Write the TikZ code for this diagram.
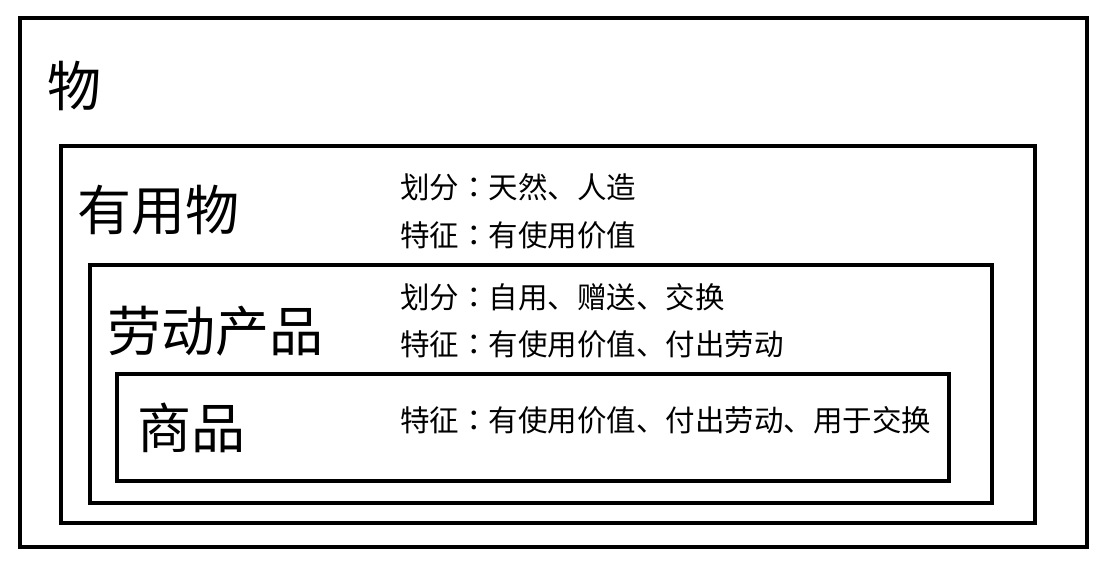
\documentclass[tikz,border=0pt]{standalone}
\usepackage{fontspec}
\newfontfamily\cjk{Noto Sans CJK SC}
\newfontfamily\cjkjp{Noto Sans CJK JP}
\newcommand{\fwcolon}{{\cjkjp ：}}
\begin{document}
\begin{tikzpicture}[x=1pt,y=-1pt,
  box/.style={draw=black,line width=4pt,rectangle,inner sep=0pt,outer sep=0pt},
  title/.style={anchor=base west,inner sep=0pt,font=\cjk\fontsize{54}{54}\selectfont},
  info/.style={anchor=base west,inner sep=0pt,font=\cjk\fontsize{29.5}{29.5}\selectfont}]
\useasboundingbox[fill=white] (0,0) rectangle (1107,566);
\node[box,minimum width=1066.5pt,minimum height=529pt] (wu) at (553.25,282.5) {};
\node[box,minimum width=974pt,minimum height=376.5pt] (youyong) at (548,334.25) {};
\node[box,minimum width=901.5pt,minimum height=238pt] (laodong) at (540.75,384) {};
\node[box,minimum width=831.7pt,minimum height=107pt] (shangpin) at (532.85,427.5) {};
\node[title] (t1) at (47,106.5) {物};
\node[title] (t2) at (77,230.5) {有用物};
\node[title] (t3) at (107,351) {劳动产品};
\node[title] (t4) at (137,448) {商品};
\node[info] (a1) at (400,198.7) {划分\fwcolon 天然、人造};
\node[info] (a2) at (400,246) {特征\fwcolon 有使用价值};
\node[info] (b1) at (400,308) {划分\fwcolon 自用、赠送、交换};
\node[info] (b2) at (400,355) {特征\fwcolon 有使用价值、付出劳动};
\node[info] (c1) at (400,431) {特征\fwcolon 有使用价值、付出劳动、用于交换};
\end{tikzpicture}
\end{document}
